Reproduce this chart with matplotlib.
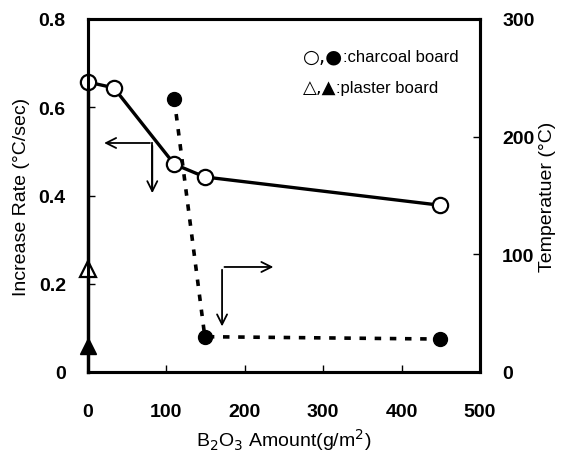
import numpy as np
import matplotlib
matplotlib.use("Agg")
import matplotlib.pyplot as plt

plt.rcParams['font.family'] = ['Liberation Sans', 'DejaVu Sans']

# charcoal board, increase rate (left axis)
rate_x = [0, 33, 110, 149, 449]
rate_y = [0.657, 0.644, 0.471, 0.442, 0.378]
# charcoal board, temperature (right axis)
temp_x = [110, 149, 449]
temp_y = [232, 30, 28]
# plaster board at 0 g/m2
plaster_rate = 0.233
plaster_temp = 22

fig = plt.figure(figsize=(5.62, 4.6), dpi=100)
ax = fig.add_axes([88/562, 87/460, 392/562, 353/460])
ax2 = ax.twinx()

# solid line for rate, line from triangle up the axis to the first circle
ax.plot([0, 0], [0.0, rate_y[0]], color='black', lw=2.4, zorder=3, clip_on=False)
ax.plot(rate_x, rate_y, '-', color='black', lw=2.4, marker='o', ms=11,
        mfc='white', mec='black', mew=1.6, zorder=5, clip_on=False)
ax.plot([0], [plaster_rate], marker='^', ms=11, mfc='white', mec='black',
        mew=1.6, ls='none', zorder=6, clip_on=False)

ax2.plot(temp_x, temp_y, ls=(0, (1.8, 2.4)), color='black', lw=2.6,
         marker='o', ms=10, mfc='black', mec='black', zorder=5)
ax2.plot([0], [plaster_temp], marker='^', ms=11, color='black', ls='none',
         zorder=6, clip_on=False)

ax.set_xlim(0, 500)
ax.set_ylim(0, 0.8)
ax2.set_ylim(0, 300)
ax.set_xticks([0, 100, 200, 300, 400, 500])
ax.set_yticks([0, 0.2, 0.4, 0.6, 0.8])
ax.set_yticklabels(['0', '0.2', '0.4', '0.6', '0.8'])
ax2.set_yticks([0, 100, 200, 300])

for a in (ax, ax2):
    for s in a.spines.values():
        s.set_linewidth(2.2)
ax.tick_params(axis='both', direction='in', length=5, width=1, labelsize=14)
ax.tick_params(axis='x', pad=22)
ax.tick_params(axis='y', pad=16)
ax2.tick_params(axis='y', direction='in', length=5, width=1, labelsize=14, pad=16)
for lab in ax.get_xticklabels() + ax.get_yticklabels() + ax2.get_yticklabels():
    lab.set_fontweight('bold')

ax.set_xlabel('B$_2$O$_3$ Amount(g/m$^2$)', fontsize=14, labelpad=5)
ax.set_ylabel('Increase Rate (\u00b0C/sec)', fontsize=14, labelpad=6)
ax2.set_ylabel('Temperatuer (\u00b0C)', fontsize=14, labelpad=3)

# arrows pointing to the axes each series belongs to
akw = dict(arrowstyle='->', color='black', lw=1.3, mutation_scale=18)
ax.plot([82, 82], [0.519, 0.42], color='black', lw=1.3)
ax.annotate('', xy=(17, 0.519), xytext=(82.5, 0.519), arrowprops=akw)
ax.annotate('', xy=(82, 0.399), xytext=(82, 0.519), arrowprops=akw)
ax.annotate('', xy=(240, 0.238), xytext=(170.5, 0.238), arrowprops=akw)
ax.annotate('', xy=(171, 0.097), xytext=(171, 0.238), arrowprops=akw)

# legend text, symbols drawn with DejaVu Sans so they come out large
s1 = ax.text(0.548, 0.895, '\u25cb,\u25cf', transform=ax.transAxes,
             family='DejaVu Sans', fontsize=14, va='center', ha='left')
ax.annotate(':charcoal board', xy=(1, 0.5), xycoords=s1, fontsize=12,
            va='center', ha='left')
s2 = ax.text(0.548, 0.805, '\u25b3,\u25b2', transform=ax.transAxes,
             family='DejaVu Sans', fontsize=13, va='center', ha='left')
ax.annotate(':plaster board', xy=(1, 0.5), xycoords=s2, fontsize=12,
            va='center', ha='left')

fig.savefig('out.png', dpi=100)
